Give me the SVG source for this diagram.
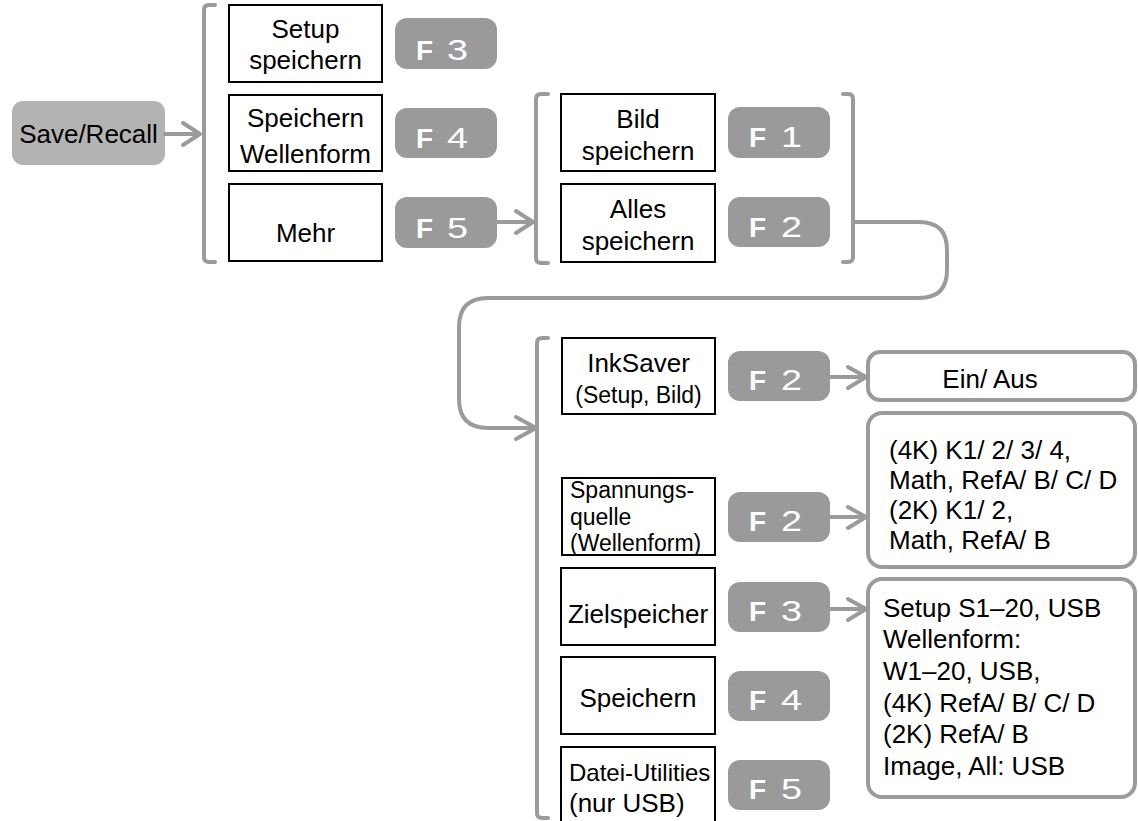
<svg xmlns="http://www.w3.org/2000/svg" width="1138" height="821" viewBox="0 0 1138 821">
  <style>
    text { font-family: "Liberation Sans", Arial, sans-serif; fill: #000; }
    .box { fill: #fff; stroke: #000; stroke-width: 2; }
    .opt { fill: #fff; stroke: #9b9b9b; stroke-width: 4; }
    .key { fill: #9a9a9a; }
    .start { fill: #b3b3b3; }
    .fk { fill: #fff; font-weight: bold; font-size: 28px; }
    .fn { fill: #fff; font-size: 29px; }
    .t26 { font-size: 26px; }
    .t24 { font-size: 24px; }
    .t23 { font-size: 23px; }
    .mid { text-anchor: middle; }
    .wire { fill: none; stroke: #9b9b9b; stroke-width: 4; stroke-linecap: round; stroke-linejoin: round; }
  </style>

  <!-- start key -->
  <g id="save-recall">
    <rect class="start" x="12" y="101" width="153" height="64" rx="11"/>
    <text class="t26 mid" x="88.5" y="143">Save/Recall</text>
  </g>

  <!-- first menu page -->
  <g id="setup-speichern">
    <rect class="box" x="229" y="5" width="153" height="77"/>
    <text class="t26 mid" x="305.5" y="38">Setup</text>
    <text class="t26 mid" x="305.5" y="69">speichern</text>
  </g>
  <g id="key-f3-a">
    <rect class="key" x="395" y="18" width="102" height="51" rx="12"/>
    <text class="fk" x="416" y="60">F</text>
    <text class="fn" x="447" y="60" textLength="21" lengthAdjust="spacingAndGlyphs">3</text>
  </g>
  <g id="speichern-wellenform">
    <rect class="box" x="229" y="95" width="153" height="76"/>
    <text class="t26 mid" x="305.5" y="127">Speichern</text>
    <text class="t26 mid" x="305.5" y="163">Wellenform</text>
  </g>
  <g id="key-f4-a">
    <rect class="key" x="395" y="108" width="102" height="50" rx="12"/>
    <text class="fk" x="416" y="148">F</text>
    <text class="fn" x="447" y="148" textLength="21" lengthAdjust="spacingAndGlyphs">4</text>
  </g>
  <g id="mehr">
    <rect class="box" x="229" y="184" width="153" height="77"/>
    <text class="t26 mid" x="305.5" y="242">Mehr</text>
  </g>
  <g id="key-f5-a">
    <rect class="key" x="395" y="197" width="102" height="51" rx="12"/>
    <text class="fk" x="416" y="238">F</text>
    <text class="fn" x="447" y="238" textLength="21" lengthAdjust="spacingAndGlyphs">5</text>
  </g>

  <!-- second menu page -->
  <g id="bild-speichern">
    <rect class="box" x="561" y="94" width="154" height="77"/>
    <text class="t26 mid" x="638" y="128">Bild</text>
    <text class="t26 mid" x="638" y="160">speichern</text>
  </g>
  <g id="key-f1">
    <rect class="key" x="728" y="107" width="102" height="51" rx="12"/>
    <text class="fk" x="749" y="147">F</text>
    <text class="fn" x="781" y="147" textLength="21" lengthAdjust="spacingAndGlyphs">1</text>
  </g>
  <g id="alles-speichern">
    <rect class="box" x="561" y="184" width="154" height="78"/>
    <text class="t26 mid" x="638" y="218">Alles</text>
    <text class="t26 mid" x="638" y="250">speichern</text>
  </g>
  <g id="key-f2-a">
    <rect class="key" x="728" y="197" width="102" height="50" rx="12"/>
    <text class="fk" x="749" y="237">F</text>
    <text class="fn" x="781" y="237" textLength="21" lengthAdjust="spacingAndGlyphs">2</text>
  </g>

  <!-- third menu page -->
  <g id="inksaver">
    <rect class="box" x="562" y="338" width="153" height="76"/>
    <text class="t26 mid" x="638.5" y="372">InkSaver</text>
    <text class="t23 mid" x="638.5" y="403">(Setup, Bild)</text>
  </g>
  <g id="key-f2-b">
    <rect class="key" x="728" y="351" width="102" height="50" rx="12"/>
    <text class="fk" x="749" y="390">F</text>
    <text class="fn" x="781" y="390" textLength="21" lengthAdjust="spacingAndGlyphs">2</text>
  </g>
  <g id="ein-aus">
    <rect class="opt" x="868" y="352" width="267" height="48" rx="12"/>
    <text class="t26 mid" x="990" y="388">Ein/ Aus</text>
  </g>

  <g id="spannungsquelle">
    <rect class="box" x="562" y="478" width="153" height="77"/>
    <text class="t23" x="570" y="498">Spannungs-</text>
    <text class="t23" x="570" y="525">quelle</text>
    <text class="t23" x="570" y="551">(Wellenform)</text>
  </g>
  <g id="key-f2-c">
    <rect class="key" x="728" y="492" width="102" height="50" rx="12"/>
    <text class="fk" x="749" y="531">F</text>
    <text class="fn" x="781" y="531" textLength="21" lengthAdjust="spacingAndGlyphs">2</text>
  </g>
  <g id="quellen">
    <rect class="opt" x="868" y="413" width="267" height="154" rx="14"/>
    <text class="t26" x="889" y="459">(4K) K1/ 2/ 3/ 4,</text>
    <text class="t26" x="889" y="489">Math, RefA/ B/ C/ D</text>
    <text class="t26" x="889" y="519">(2K) K1/ 2,</text>
    <text class="t26" x="889" y="549">Math, RefA/ B</text>
  </g>

  <g id="zielspeicher">
    <rect class="box" x="561" y="568" width="154" height="77"/>
    <text class="t26 mid" x="638" y="623">Zielspeicher</text>
  </g>
  <g id="key-f3-b">
    <rect class="key" x="728" y="582" width="102" height="50" rx="12"/>
    <text class="fk" x="749" y="621">F</text>
    <text class="fn" x="781" y="621" textLength="21" lengthAdjust="spacingAndGlyphs">3</text>
  </g>
  <g id="ziele">
    <rect class="opt" x="868" y="579" width="267" height="218" rx="14"/>
    <text class="t26" x="883" y="617">Setup S1–20, USB</text>
    <text class="t26" x="883" y="648">Wellenform:</text>
    <text class="t26" x="883" y="680">W1–20, USB,</text>
    <text class="t26" x="883" y="712">(4K) RefA/ B/ C/ D</text>
    <text class="t26" x="883" y="743">(2K) RefA/ B</text>
    <text class="t26" x="883" y="775">Image, All: USB</text>
  </g>

  <g id="speichern">
    <rect class="box" x="561" y="657" width="154" height="77"/>
    <text class="t26 mid" x="638" y="707">Speichern</text>
  </g>
  <g id="key-f4-b">
    <rect class="key" x="728" y="671" width="102" height="50" rx="12"/>
    <text class="fk" x="749" y="710">F</text>
    <text class="fn" x="781" y="710" textLength="21" lengthAdjust="spacingAndGlyphs">4</text>
  </g>

  <g id="datei-utilities">
    <rect class="box" x="561" y="747" width="154" height="84"/>
    <text class="t24" x="569" y="781">Datei-Utilities</text>
    <text class="t26" x="569" y="812">(nur USB)</text>
  </g>
  <g id="key-f5-b">
    <rect class="key" x="728" y="760" width="102" height="50" rx="12"/>
    <text class="fk" x="749" y="799">F</text>
    <text class="fn" x="781" y="799" textLength="21" lengthAdjust="spacingAndGlyphs">5</text>
  </g>

  <!-- brackets, arrows and the page-to-page loop -->
  <g id="connectors" class="wire">
    <path d="M215,5 H209 Q204,5 204,10 V257 Q204,262 209,262 H215"/>
    <path d="M165,134 H199"/>
    <path d="M183,123 L200,134 L183,145"/>

    <path d="M497,222 H532"/>
    <path d="M516,211 L533,222 L516,233"/>

    <path d="M548,94 H541 Q536,94 536,99 V258 Q536,263 541,263 H548"/>
    <path d="M843,94 H848 Q853,94 853,99 V257 Q853,262 848,262 H843"/>

    <path d="M853,222 H919 Q947,222 947,250 V270 Q947,298 919,298 H488 Q459,298 459,327 V399 Q459,428 488,428 H535"/>
    <path d="M516,417 L536,428 L516,439"/>

    <path d="M548,338 H542 Q537,338 537,343 V813 Q537,818 542,818 H548"/>

    <path d="M830,377 H864"/>
    <path d="M848,367 L866,377 L848,388"/>
    <path d="M830,517 H864"/>
    <path d="M848,507 L866,517 L848,528"/>
    <path d="M830,609 H864"/>
    <path d="M848,599 L866,609 L848,620"/>
  </g>
</svg>
